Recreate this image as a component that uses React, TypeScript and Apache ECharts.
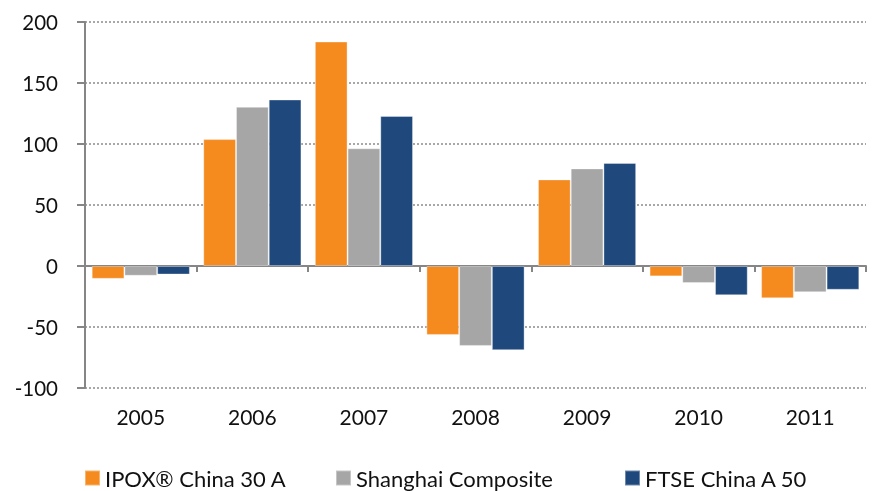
import React, { useEffect, useRef } from "react";
import * as echarts from "echarts";

const categories = ["2005", "2006", "2007", "2008", "2009", "2010", "2011"];
const ipox = [-10.5, 104, 184, -56.5, 71, -8.5, -26.5];
const shanghai = [-8, 130.5, 96.5, -65.5, 80, -14, -21.5];
const ftse = [-7, 136.5, 123, -69, 84.5, -24, -19.5];
const seriesNames = ["IPOX® China 30 A", "Shanghai Composite", "FTSE China A 50"];
const colors = ["#F58A1F", "#A6A6A6", "#1F497D"];
const legendLefts = [84, 335, 624];

const FONT = "Lato, 'Noto Sans', sans-serif";

export default function App() {
  const ref = useRef<HTMLDivElement>(null);
  useEffect(() => {
    if (!ref.current) return;
    const chart = echarts.init(ref.current, null, { renderer: "svg" });
    const data = [ipox, shanghai, ftse];
    chart.setOption({
      animation: false,
      textStyle: { fontFamily: FONT },
      grid: { left: 85, right: 11, top: 22, bottom: 103, containLabel: false },
      legend: seriesNames.map((name, i) => ({
        left: legendLefts[i],
        top: 466,
        padding: 0,
        itemWidth: 15,
        itemHeight: 15,
        itemGap: 0,
        icon: "rect",
        textStyle: { fontFamily: FONT, fontSize: 22, color: "#111", lineHeight: 24 },
        data: [name],
      })),
      xAxis: [
        {
          type: "category",
          data: categories,
          position: "bottom",
          axisLine: { show: false, onZero: false },
          axisTick: { show: false },
          axisLabel: { margin: 18, fontSize: 21, color: "#111", fontFamily: FONT },
        },
        {
          type: "category",
          data: categories,
          position: "top",
          axisLine: { show: true, onZero: true, lineStyle: { color: "#868686", width: 2 } },
          axisTick: { show: true, inside: true, length: 6, lineStyle: { color: "#868686", width: 2 } },
          axisLabel: { show: false },
        },
      ],
      yAxis: {
        type: "value",
        min: -100,
        max: 200,
        interval: 50,
        axisLine: { show: true, lineStyle: { color: "#868686", width: 2 } },
        axisTick: { show: true, length: 8, lineStyle: { color: "#868686", width: 2 } },
        axisLabel: { margin: 27, fontSize: 20.5, color: "#111", fontFamily: FONT },
        splitLine: { show: true, lineStyle: { color: "#8C8C8C", type: [2, 2], width: 1.5 } },
      },
      series: seriesNames.map((name, i) => ({
        name,
        type: "bar",
        xAxisIndex: 0,
        data: data[i],
        barGap: "0%",
        barCategoryGap: "12%",
        itemStyle: { color: colors[i], borderColor: "rgba(255,255,255,0.35)", borderWidth: 1 },
      })),
    });
    return () => chart.dispose();
  }, []);
  return <div ref={ref} style={{ position: "fixed", left: 0, top: 0, width: 877, height: 491 }} />;
}
